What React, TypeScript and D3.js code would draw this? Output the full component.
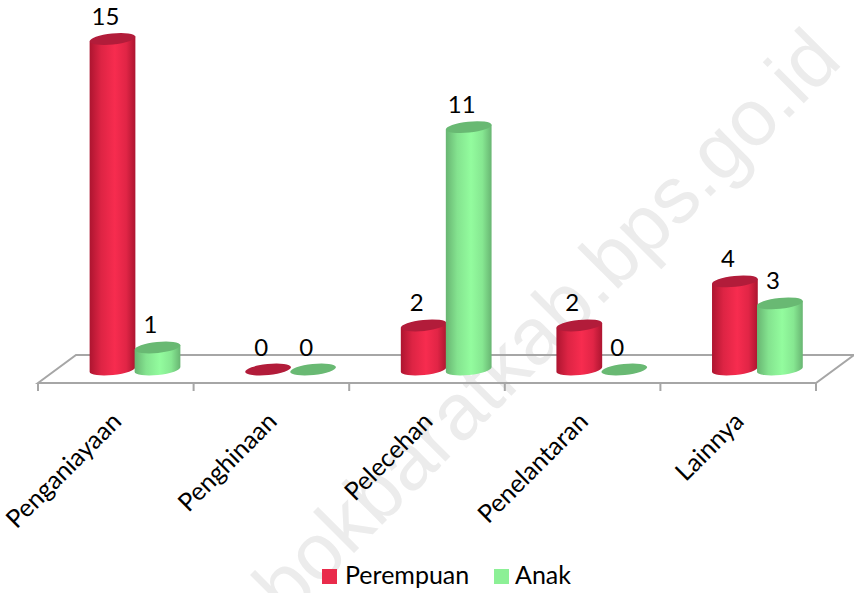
import React from "react";
import * as d3 from "d3";

const width = 854;
const height = 593;

const categories = ["Penganiayaan", "Penghinaan", "Pelecehan", "Penelantaran", "Lainnya"];
const seriesNames = ["Perempuan", "Anak"];
const perempuan = [15, 0, 2, 2, 4];
const anak = [1, 0, 11, 0, 3];
const watermark = "bokbaratkab.bps.go.id";

const fontFamily = "Lato, sans-serif";
const floor = { left: 38, right: 816, front: 383, back: 355, depthX: 38 };
const tilt = 6; // degrees, the ellipses lean up to the right
const rx = 23;
const ry = 5.5;

const palette = [
  { edge: "#ad1530", mid: "#f72c4f", top: "#b21c3a", key: "#e92b4b", id: "gradRed" },
  { edge: "#68b572", mid: "#93fc9e", top: "#69b973", key: "#8cf096", id: "gradGreen" },
];

const x0 = d3.scaleBand<string>().domain(categories).range([floor.left, floor.right]);
const x1 = d3.scaleBand<string>().domain(seriesNames).range([52, 142]);
const y = d3.scaleLinear().domain([0, 15]).range([369.5, 39]);

const rad = (tilt * Math.PI) / 180;
const dx = rx * Math.cos(rad);
const dy = rx * Math.sin(rad);

// side of a cylinder, from the top ellipse's ends down round the bottom ellipse
const bodyPath = (cx: number, top: number, base: number) =>
  `M${cx - dx},${top + dy} L${cx - dx},${base + dy} ` +
  `A${rx},${ry} ${-tilt} 0 0 ${cx + dx},${base - dy} L${cx + dx},${top - dy} Z`;

const App = () => {
  const values = [perempuan, anak];
  const ticks = [...categories.map((c) => x0(c) as number), floor.right];
  return (
    <svg
      width={width}
      height={height}
      style={{ position: "absolute", left: 0, top: 0, background: "#fff" }}
      fontFamily={fontFamily}
    >
      <defs>
        {palette.map((p) => (
          <linearGradient key={p.id} id={p.id} x1="0" x2="1" y1="0" y2="0">
            <stop offset="0" stopColor={p.edge} />
            <stop offset="0.25" stopColor={d3.interpolateRgb(p.edge, p.mid)(0.65)} />
            <stop offset="0.55" stopColor={p.mid} />
            <stop offset="0.8" stopColor={d3.interpolateRgb(p.edge, p.mid)(0.7)} />
            <stop offset="1" stopColor={p.edge} />
          </linearGradient>
        ))}
      </defs>

      <text
        transform="translate(844,63) rotate(-45)"
        textAnchor="end"
        fontFamily="'Liberation Sans', sans-serif"
        fontSize={80}
        fill="#ececec"
      >
        {watermark}
      </text>

      <path
        d={`M${floor.left},${floor.front} L${floor.left + floor.depthX},${floor.back} L${floor.right + floor.depthX},${floor.back} L${floor.right},${floor.front} Z`}
        fill="none"
        stroke="#a6a6a6"
        strokeWidth={2}
      />
      {ticks.map((t) => (
        <line key={t} x1={t} x2={t} y1={floor.front} y2={floor.front + 8} stroke="#a6a6a6" strokeWidth={2} />
      ))}

      {categories.map((c, i) => (
        <g key={c}>
          {seriesNames.map((s, j) => {
            const cx = (x0(c) as number) + (x1(s) as number) + x1.bandwidth() / 2;
            const v = values[j][i];
            const p = palette[j];
            return (
              <g key={s}>
                {v > 0 && <path d={bodyPath(cx, y(v), y(0))} fill={`url(#${p.id})`} />}
                <ellipse
                  cx={cx}
                  cy={y(v)}
                  rx={rx}
                  ry={ry}
                  fill={p.top}
                  transform={`rotate(${-tilt} ${cx} ${y(v)})`}
                />
              </g>
            );
          })}
        </g>
      ))}

      {categories.map((c, i) =>
        seriesNames.map((s, j) => {
          const cx = (x0(c) as number) + (x1(s) as number) + x1.bandwidth() / 2;
          return (
            <text key={c + s} x={cx - 7} y={y(values[j][i]) - 14} textAnchor="middle" fontSize={24} fill="#000">
              {values[j][i]}
            </text>
          );
        })
      )}

      {categories.map((c) => {
        const tx = (x0(c) as number) + x0.bandwidth() / 2 + 7;
        return (
          <text
            key={c}
            transform={`translate(${tx},${floor.front + 40}) rotate(-45)`}
            textAnchor="end"
            fontSize={25}
            fill="#000"
          >
            {c}
          </text>
        );
      })}

      {[
        { x: 322, tx: 345 },
        { x: 494, tx: 515 },
      ].map((l, i) => (
        <g key={seriesNames[i]}>
          <rect x={l.x} y={569} width={15} height={15} fill={palette[i].key} />
          <text x={l.tx} y={584} fontSize={25} fill="#000">
            {seriesNames[i]}
          </text>
        </g>
      ))}
    </svg>
  );
};

export default App;
